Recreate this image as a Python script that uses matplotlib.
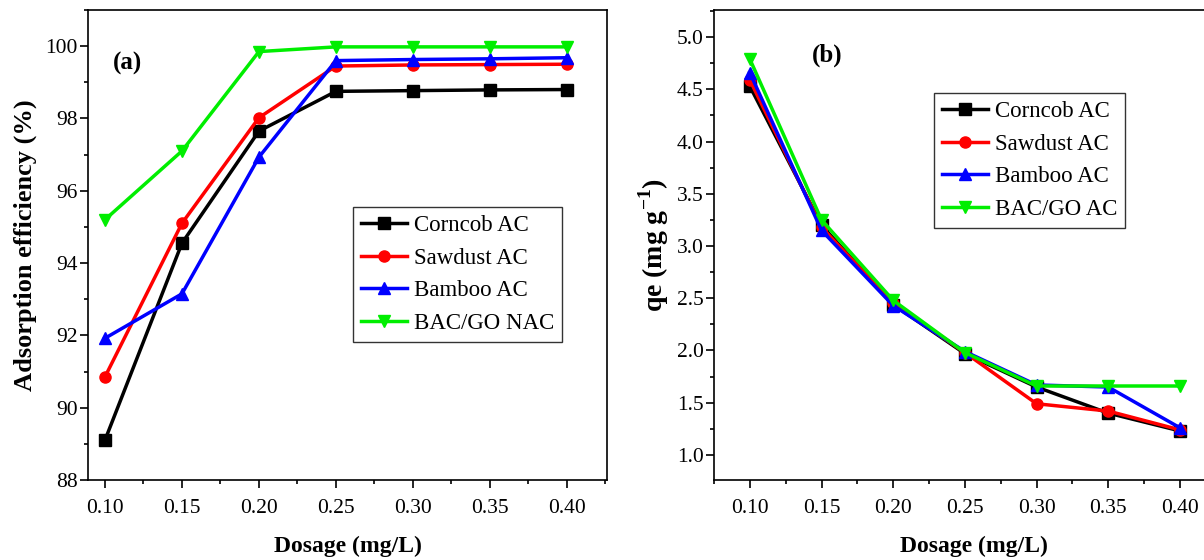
import matplotlib
matplotlib.use('Agg')
import matplotlib.pyplot as plt
from matplotlib.ticker import MultipleLocator, FormatStrFormatter

plt.rcParams['font.family'] = ['Liberation Serif', 'DejaVu Serif']
plt.rcParams['mathtext.fontset'] = 'custom'
plt.rcParams['mathtext.rm'] = 'Liberation Serif'
plt.rcParams['mathtext.bf'] = 'Liberation Serif:bold'

dosage = [0.10, 0.15, 0.20, 0.25, 0.30, 0.35, 0.40]

# (a) adsorption efficiency (%)
eff_corncob = [89.1, 94.55, 97.65, 98.75, 98.77, 98.79, 98.8]
eff_sawdust = [90.85, 95.1, 98.02, 99.45, 99.48, 99.49, 99.5]
eff_bamboo = [91.92, 93.15, 96.93, 99.6, 99.63, 99.65, 99.68]
eff_bacgo = [95.2, 97.1, 99.85, 99.98, 99.98, 99.98, 99.98]

# (b) qe (mg/g)
qe_corncob = [4.53, 3.2, 2.44, 1.97, 1.65, 1.40, 1.23]
qe_sawdust = [4.59, 3.18, 2.45, 1.98, 1.49, 1.42, 1.24]
qe_bamboo = [4.66, 3.15, 2.43, 1.99, 1.67, 1.65, 1.26]
qe_bacgo = [4.79, 3.25, 2.48, 1.98, 1.66, 1.66, 1.66]

colors = ['black', 'red', 'blue', '#00ee00']
markers = ['s', 'o', '^', 'v']

fig = plt.figure(figsize=(12.04, 5.6), dpi=100)
W, H = 1204, 560
ax1 = fig.add_axes([88 / W, 1 - 480 / H, 519 / W, 470 / H])
ax2 = fig.add_axes([714 / W, 1 - 480 / H, 519 / W, 470 / H])

names_a = ['Corncob AC', 'Sawdust AC', 'Bamboo AC', 'BAC/GO NAC']
for y, c, m, n in zip([eff_corncob, eff_sawdust, eff_bamboo, eff_bacgo], colors, markers, names_a):
    ax1.plot(dosage, y, color=c, marker=m, markersize=8, linewidth=2.5, label=n)

names_b = ['Corncob AC', 'Sawdust AC', 'Bamboo AC', 'BAC/GO AC']
for y, c, m, n in zip([qe_corncob, qe_sawdust, qe_bamboo, qe_bacgo], colors, markers, names_b):
    ax2.plot(dosage, y, color=c, marker=m, markersize=8, linewidth=2.5, label=n)

ax1.set_xlim(0.089, 0.426)
ax1.set_ylim(88, 101)
ax1.yaxis.set_major_locator(MultipleLocator(2))
ax1.yaxis.set_minor_locator(MultipleLocator(1))
ax1.yaxis.set_major_formatter(FormatStrFormatter('%d'))

ax2.set_xlim(0.075, 0.437)
ax2.set_ylim(0.76, 5.26)
ax2.yaxis.set_major_locator(MultipleLocator(0.5))
ax2.yaxis.set_minor_locator(MultipleLocator(0.25))
ax2.yaxis.set_major_formatter(FormatStrFormatter('%.1f'))

for ax in (ax1, ax2):
    ax.xaxis.set_major_locator(MultipleLocator(0.05))
    ax.xaxis.set_minor_locator(MultipleLocator(0.025))
    ax.xaxis.set_major_formatter(FormatStrFormatter('%.2f'))
    ax.tick_params(which='major', direction='out', length=5.5, width=1.2, labelsize=15.5)
    ax.tick_params(which='minor', direction='out', length=3, width=1.2)
    ax.tick_params(axis='x', which='major', pad=8)
    ax.tick_params(axis='y', which='major', pad=2)
    for s in ax.spines.values():
        s.set_linewidth(1.2)
    ax.set_xlabel('Dosage (mg/L)', fontsize=17, fontweight='bold', labelpad=13)

ax1.set_ylabel('Adsorption efficiency (%)', fontsize=19, fontweight='bold', labelpad=6)
ax2.set_ylabel(r'qe (mg g$^{\mathbf{-1}}$)', fontsize=20, fontweight='bold', labelpad=4)

ax1.text(128, H - 63, '(a)', transform=None, fontsize=18, fontweight='bold', ha='center', va='center')
ax2.text(827, H - 55, '(b)', transform=None, fontsize=18, fontweight='bold', ha='center', va='center')

leg_kw = dict(fontsize=16.5, frameon=True, fancybox=False, edgecolor='black',
              handlelength=2.0, borderpad=0.35, labelspacing=0.5, handletextpad=0.3,
              borderaxespad=0)
l1 = ax1.legend(loc='upper left', bbox_to_anchor=((353 - 88) / 519, (480 - 207) / 470), **leg_kw)
l2 = ax2.legend(loc='upper left', bbox_to_anchor=((934 - 714) / 519, (480 - 93) / 470), **leg_kw)
for l in (l1, l2):
    l.get_frame().set_linewidth(1.0)

fig.savefig('out.png', dpi=100)
